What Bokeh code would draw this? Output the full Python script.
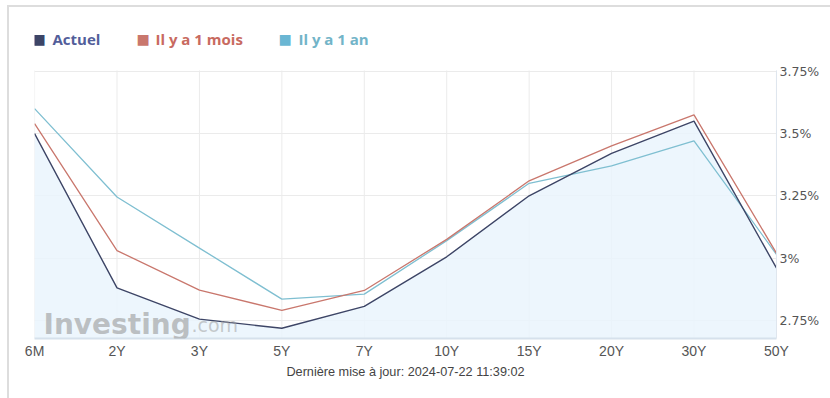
from bokeh.plotting import figure
from bokeh.models import (Label, ColumnDataSource, FixedTicker, CustomJSTickFormatter,
                          Range1d, Title)
from bokeh.embed import file_html
from bokeh.resources import INLINE

categories = ["6M", "2Y", "3Y", "5Y", "7Y", "10Y", "15Y", "20Y", "30Y", "50Y"]
actuel = [3.50, 2.88, 2.755, 2.718, 2.806, 3.005, 3.25, 3.42, 3.55, 2.96]
un_mois = [3.54, 3.03, 2.871, 2.79, 2.87, 3.075, 3.31, 3.45, 3.575, 3.02]
un_an = [3.60, 3.245, 3.04, 2.835, 2.855, 3.07, 3.30, 3.37, 3.47, 3.015]
y_ticks = [2.75, 3.0, 3.25, 3.5, 3.75]
y_tick_labels = ["2.75%", "3%", "3.25%", "3.5%", "3.75%"]
series_names = ["Actuel", "Il y a 1 mois", "Il y a 1 an"]
footer = "Dernière mise à jour: 2024-07-22 11:39:02"

c_act, c_mois, c_an = "#3d4566", "#c9776d", "#7fbfd1"

y_lo, y_hi = 2.677, 3.753          # visible data band
y_top = 4.034                      # extra head room that holds the legend

src = ColumnDataSource(dict(x=categories, act=actuel, mois=un_mois, an=un_an,
                            base=[y_lo] * len(categories),
                            top=[y_hi] * len(categories)))

p = figure(width=830, height=398, x_range=categories, y_range=Range1d(y_lo, y_top),
           output_backend="svg", toolbar_location=None,
           min_border_left=34, min_border_right=54, min_border_top=0, min_border_bottom=60,
           y_axis_location="right")
p.x_range.range_padding = -0.499
p.x_range.range_padding_units = "absolute"
p.outline_line_color = None
p.background_fill_color = None
p.border_fill_color = None
p.styles = {
    "background": "linear-gradient(#dddddd, #dddddd) 8px 5px / 100% 2px no-repeat, "
                  "linear-gradient(#dddddd, #dddddd) 7px 5px / 2px 100% no-repeat, white"
}

# vertical grid lines limited to the data band
p.segment(x0="x", y0="base", x1="x", y1="top", source=src, line_color="#ebebeb", line_width=1)
p.xgrid.visible = False
p.ygrid.grid_line_color = "#ebebeb"
p.ygrid.ticker = FixedTicker(ticks=y_ticks)

p.varea(x="x", y1="base", y2="act", source=src, fill_color="#eaf4fd", fill_alpha=0.85)
p.line(x="x", y="an", source=src, line_color=c_an, line_width=1.3)
p.line(x="x", y="mois", source=src, line_color=c_mois, line_width=1.3)
p.line(x="x", y="act", source=src, line_color=c_act, line_width=1.4)

ya = p.yaxis[0]
ya.ticker = FixedTicker(ticks=y_ticks)
ya.bounds = (y_lo, y_hi)
ya.formatter = CustomJSTickFormatter(args=dict(t=y_ticks, l=y_tick_labels),
                                     code="const i = t.indexOf(tick); return i >= 0 ? l[i] : '';")
ya.major_label_text_font = "DejaVu Sans"
ya.major_label_text_font_size = "12.5px"
ya.major_label_text_color = "#555555"
ya.major_label_standoff = 3
ya.axis_line_color = "#dfe6ee"
ya.major_tick_line_color = None
ya.major_tick_out = 0
ya.major_tick_in = 0
ya.minor_tick_line_color = None

xa = p.xaxis[0]
xa.major_label_text_font = "Liberation Sans"
xa.major_label_text_font_size = "14px"
xa.major_label_text_color = "#555555"
xa.major_label_standoff = 4
xa.axis_line_color = "#d6e1ec"
xa.axis_line_width = 2
xa.major_tick_line_color = None
xa.major_tick_out = 0
xa.major_tick_in = 0

# watermark
p.add_layout(Label(x=43, y=324, x_units="canvas", y_units="canvas", text="Investing",
                   text_font="DejaVu Sans", text_font_style="bold", text_font_size="28px",
                   text_color="#9a9a9a", text_alpha=0.6, text_baseline="alphabetic"))
p.add_layout(Label(x=191, y=324, x_units="canvas", y_units="canvas", text=".com",
                   text_font="DejaVu Sans", text_font_size="19px",
                   text_color="#9a9a9a", text_alpha=0.5, text_baseline="alphabetic"))

# legend
leg = [(32, c_act, "#525e9a", series_names[0], 52),
       (136, c_mois, "#c86a60", series_names[1], 155),
       (278, "#6ab6d3", "#72b4c8", series_names[2], 298)]
for sq_x, sq_c, tc, name, tx in leg:
    p.add_layout(Label(x=sq_x, y=38, x_units="canvas", y_units="canvas", text="■",
                       text_font="DejaVu Sans", text_font_size="14px", text_color=sq_c,
                       text_baseline="middle"))
    p.add_layout(Label(x=tx, y=38, x_units="canvas", y_units="canvas", text=name,
                       text_font="Open Sans", text_font_style="bold", text_font_size="15px",
                       text_color=tc, text_baseline="middle"))

p.add_layout(Title(text=footer, align="center", standoff=2, text_font="Liberation Sans",
                   text_font_size="12.7px", text_font_style="normal", text_color="#444444"),
             "below")

open("out.html", "w").write(file_html(p, INLINE))
